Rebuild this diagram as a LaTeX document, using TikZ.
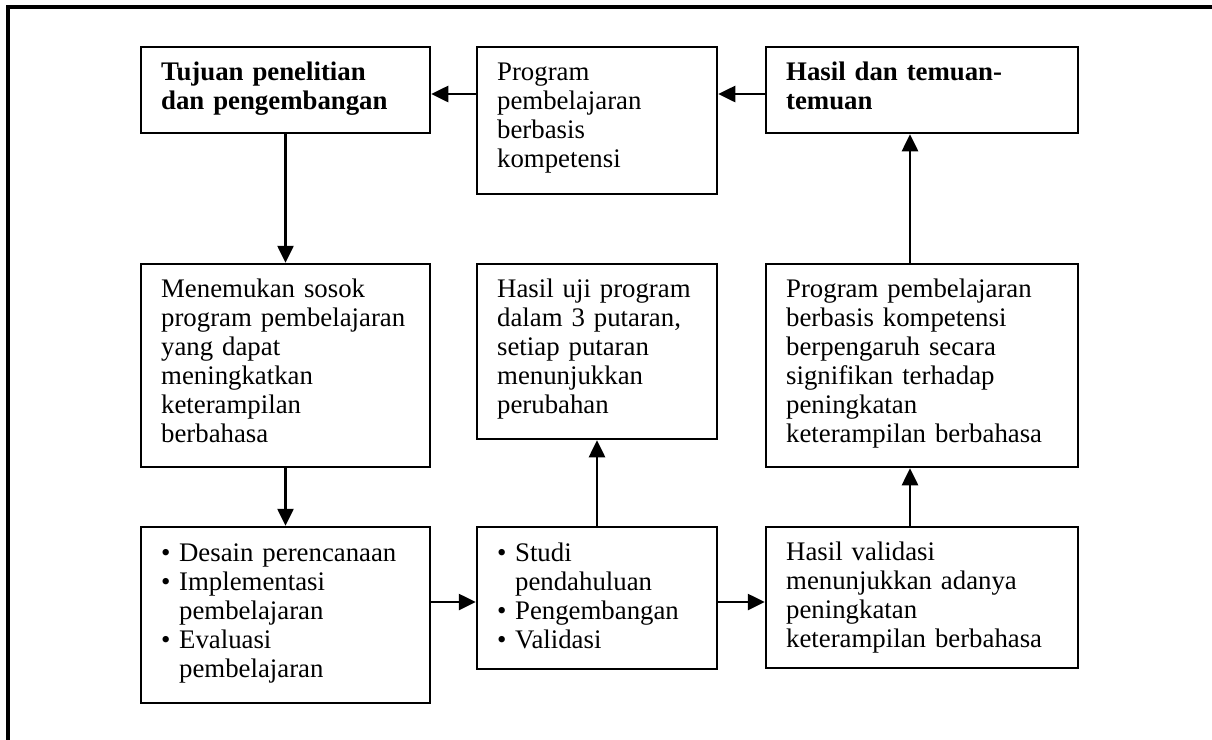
\documentclass[tikz,border=0pt]{standalone}
\usepackage{fontspec}
\setmainfont{Liberation Serif}
\usetikzlibrary{arrows.meta}
\begin{document}
\begin{tikzpicture}[x=0.5pt,y=-0.5pt,
  box/.style={draw=black, line width=1.25pt, inner sep=0pt, rectangle},
  txt/.style={anchor=base west, inner sep=0pt, align=left, text width=150pt,
    font=\fontsize{13.4}{14.5}\selectfont},
  btxt/.style={txt, font=\fontsize{13.4}{14.5}\selectfont\bfseries},
  arr/.style={-{Triangle[length=8.5pt,width=8pt]}, line width=1.3pt},
  frameline/.style={line width=1.6pt}
]
\newcommand{\bul}{\makebox[9pt][l]{\textbullet}}
\newcommand{\ind}{\hspace*{9pt}}
\useasboundingbox (0,0) rectangle (1212,740);
\draw[frameline] (1212,7) -- (8,7) -- (8,740);

% boxes
\node[box, minimum width=144.5pt, minimum height=43pt]   (b1) at (285.5,90) {};
\node[box, minimum width=120pt,   minimum height=73.5pt] (b2) at (597,120.5) {};
\node[box, minimum width=156pt,   minimum height=43pt]   (b3) at (922,90) {};
\node[box, minimum width=144.5pt, minimum height=101.5pt] (b4) at (285.5,365.5) {};
\node[box, minimum width=120pt,   minimum height=87.5pt] (b5) at (597,351.5) {};
\node[box, minimum width=156pt,   minimum height=101.5pt] (b6) at (922,365.5) {};
\node[box, minimum width=144.5pt, minimum height=88pt]   (b7) at (285.5,615) {};
\node[box, minimum width=120pt,   minimum height=71pt]   (b8) at (597,598) {};
\node[box, minimum width=156pt,   minimum height=70.5pt] (b9) at (922,597.5) {};

% texts
\node[btxt] (t1) at ([shift={(21,35)}]b1.north west) {Tujuan penelitian\\dan pengembangan};
\node[txt]  (t2) at ([shift={(21,35)}]b2.north west) {Program\\pembelajaran\\berbasis\\kompetensi};
\node[btxt] (t3) at ([shift={(21,35)}]b3.north west) {Hasil dan temuan-\\temuan};
\node[txt]  (t4) at ([shift={(21,35)}]b4.north west) {Menemukan sosok\\program pembelajaran\\yang dapat\\meningkatkan\\keterampilan\\berbahasa};
\node[txt]  (t5) at ([shift={(21,35)}]b5.north west) {Hasil uji program\\dalam 3 putaran,\\setiap putaran\\menunjukkan\\perubahan};
\node[txt]  (t6) at ([shift={(21,35)}]b6.north west) {Program pembelajaran\\berbasis kompetensi\\berpengaruh secara\\signifikan terhadap\\peningkatan\\keterampilan berbahasa};
\node[txt]  (t7) at ([shift={(21,36)}]b7.north west) {\bul Desain perencanaan\\\bul Implementasi\\\ind pembelajaran\\\bul Evaluasi\\\ind pembelajaran};
\node[txt]  (t8) at ([shift={(21,36)}]b8.north west) {\bul Studi\\\ind pendahuluan\\\bul Pengembangan\\\bul Validasi};
\node[txt]  (t9) at ([shift={(21,35)}]b9.north west) {Hasil validasi\\menunjukkan adanya\\peningkatan\\keterampilan berbahasa};

% connectors
\coordinate (a21) at ([yshift=-2pt]b1.east);
\draw[arr] (b2.west |- a21) -- (a21);
\draw[arr] (b3.west |- a21) -- (b2.east |- a21);
\draw[arr] (b1.south) -- (b4.north);
\draw[arr] (b4.south) -- (b7.north);
\coordinate (a78) at ([yshift=-2pt]b8.west);
\draw[arr] (b7.east |- a78) -- (a78);
\draw[arr] (b8.east |- a78) -- (b9.west |- a78);
\draw[arr] (b8.north) -- (b5.south);
\coordinate (a96) at ([xshift=-6pt]b9.north);
\draw[arr] (a96) -- (b6.south -| a96);
\draw[arr] (b6.north -| a96) -- (b3.south -| a96);
\end{tikzpicture}
\end{document}
